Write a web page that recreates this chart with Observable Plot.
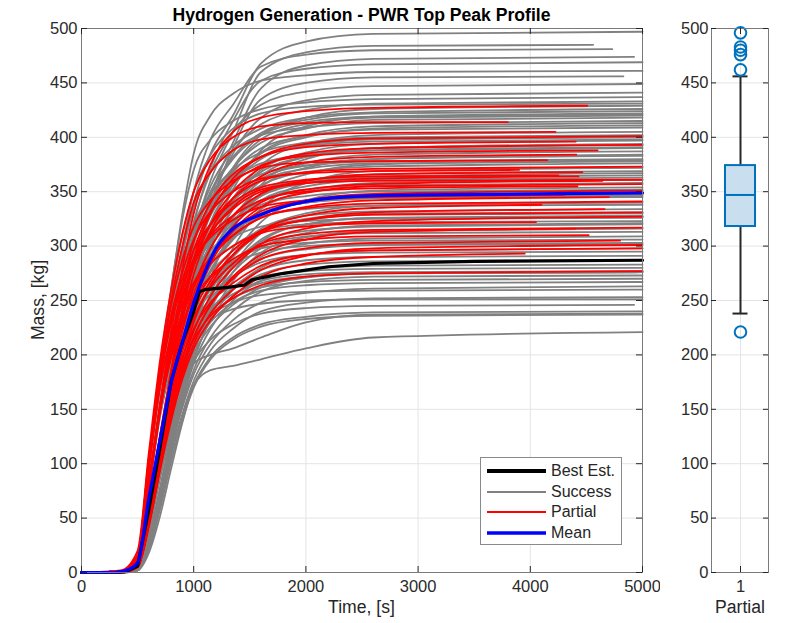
<!DOCTYPE html>
<html><head><meta charset="utf-8">
<script src="https://cdn.jsdelivr.net/npm/d3@7"></script>
<script src="https://cdn.jsdelivr.net/npm/@observablehq/plot@0.6"></script>
<style>
body{margin:0;background:#fff;}
#wrap{position:relative;width:790px;height:623px;font-family:'Liberation Sans',Arial,Helvetica,sans-serif;color:#262626;overflow:hidden;background:#fff;}
#wrap svg{position:absolute;top:0;}
.abs{position:absolute;white-space:nowrap;}
</style></head><body><div id="wrap"></div>
<script>
// ---------------- data ----------------
const title = "Hydrogen Generation - PWR Top Peak Profile";
const xLabel = "Time, [s]";
const yLabel = "Mass, [kg]";
const boxLabel = "Partial";
const xTicks = [0, 1000, 2000, 3000, 4000, 5000];
const yTicks = [0, 50, 100, 150, 200, 250, 300, 350, 400, 450, 500];
const legendNames = ["Best Est.", "Success", "Partial", "Mean"];

// shared sample times for every run (s)
const time = [0, 350, 500, 600, 700, 800, 900, 1000, 1150, 1350, 1600, 2000, 2600, 5000];

// "Success" runs (kg at each sample time)
const success = [
  [0,1,14,95,175,240,295,340,385,420,468,488,495,497],
  [0,1,11,78,150,212,265,310,360,405,460,478,484,485],
  [0,1,14,98,178,245,300,350,398,430,465,476,480,481],
  [0,1,8,62,122,180,235,285,345,395,445,466,472,474],
  [0,1,11,80,152,215,270,320,372,415,452,463,467,469],
  [0,1,15,100,185,260,330,385,420,440,452,457,460,461],
  [0,1,8,60,118,175,228,275,335,390,435,450,455,456],
  [0,1,12,82,156,220,275,322,368,405,430,442,447,449],
  [0,1,9,64,124,182,236,285,340,385,418,434,439,441],
  [0,1,16,105,190,262,325,370,398,415,426,432,435,437],
  [0,1,11,78,150,212,265,312,355,388,412,425,431,433],
  [0,1,8,60,120,178,232,280,332,372,402,418,426,429],
  [0,1,14,96,176,240,292,335,368,392,408,418,423,426],
  [0,0,5,46,100,155,205,250,305,352,388,410,419,422],
  [0,1,10,76,148,208,260,302,342,372,395,408,416,418],
  [0,1,15,100,182,248,298,338,368,388,402,409,413,415],
  [0,1,8,64,124,180,232,275,320,356,385,400,408,411],
  [0,1,12,80,152,214,264,304,340,368,390,401,407,409],
  [0,0,6,48,102,158,208,250,300,342,374,394,402,405],
  [0,1,14,96,176,240,286,320,348,370,386,395,400,402],
  [0,1,9,62,122,178,228,268,310,344,370,386,394,397],
  [0,0,3,30,76,126,172,215,270,318,356,380,390,393],
  [0,1,16,104,184,244,286,316,342,362,376,384,388,390],
  [0,1,8,60,120,175,224,264,302,334,360,376,384,387],
  [0,1,11,78,148,206,252,288,318,342,362,374,380,383],
  [0,0,5,44,98,152,200,242,284,320,348,366,375,379],
  [0,1,12,82,154,212,254,286,314,338,356,368,373,376],
  [0,0,3,28,74,122,168,208,256,298,334,358,369,372],
  [0,1,9,64,124,178,222,258,292,322,346,360,366,369],
  [0,1,15,100,180,236,272,298,320,338,352,360,363,365],
  [0,0,6,46,100,154,198,236,276,308,334,350,358,361],
  [0,1,11,78,148,204,244,272,300,324,342,352,356,358],
  [0,0,4,32,78,128,172,210,252,290,322,342,351,354],
  [0,1,14,96,172,226,260,284,306,324,338,346,350,352],
  [0,1,8,62,120,172,214,246,278,306,328,340,346,348],
  [0,1,10,74,144,198,236,264,290,312,330,340,344,345],
  [0,0,3,26,70,118,162,200,244,282,312,330,337,340],
  [0,1,15,98,174,224,254,276,296,314,327,334,337,338],
  [0,0,5,44,98,150,192,226,262,292,316,328,332,334],
  [0,1,12,80,150,200,234,256,276,296,314,325,330,331],
  [0,0,3,28,72,122,166,204,242,276,304,320,326,327],
  [0,1,14,94,168,216,246,266,284,300,314,320,322,323],
  [0,1,8,60,118,168,206,234,260,284,304,314,318,320],
  [0,0,2,22,64,112,156,194,234,268,294,308,314,316],
  [0,1,11,78,146,194,224,246,266,284,300,309,312,313],
  [0,0,5,44,96,148,188,218,246,270,290,302,307,309],
  [0,1,15,98,172,214,238,256,272,286,298,303,305,306],
  [0,1,9,62,120,168,202,228,252,272,288,297,301,302],
  [0,0,3,26,70,118,160,196,232,260,280,292,296,298],
  [0,1,11,76,144,188,216,236,256,272,285,292,294,295],
  [0,0,6,46,98,146,184,212,240,262,278,287,290,291],
  [0,1,8,60,118,164,196,220,242,260,274,283,286,287],
  [0,0,3,28,72,120,160,192,224,250,268,278,282,283],
  [0,1,12,80,146,188,214,232,250,263,272,277,279,280],
  [0,0,5,42,94,142,180,208,234,254,268,274,276,277],
  [0,0,2,24,66,114,154,186,216,240,258,268,272,273],
  [0,1,8,62,118,162,192,214,236,252,262,267,269,270],
  [0,0,6,46,98,144,180,206,230,248,259,264,266,267],
  [0,0,3,26,68,114,152,182,210,232,248,257,261,263],
  [0,1,9,64,120,164,194,216,236,248,255,258,259,260],
  [0,0,2,22,62,108,146,176,204,224,240,248,252,253],
  [0,0,5,42,92,136,170,194,214,228,238,243,245,246],
  [0,0,3,24,64,108,144,172,198,216,228,235,239,240],
  [0,0,2,20,58,102,140,170,196,214,226,233,236,237],
  [0,0,2,18,52,96,138,172,186,190,196,206,216,221],
  [0,0,4,36,86,132,168,192,200,206,216,230,237,238],
  [0,1,8,58,114,160,192,214,232,242,247,250,251,251],
  [0,1,11,78,150,210,256,292,328,358,380,393,398,400],
  [0,1,8,60,120,176,226,268,310,344,368,382,388,391],
  [0,1,15,100,182,236,268,292,318,342,360,371,376,378],
  [0,0,5,44,98,152,200,240,284,318,342,355,361,363],
  [0,1,12,80,150,204,240,266,292,314,330,340,344,346],
  [0,1,8,62,120,170,208,236,264,290,312,324,329,330],
  [0,1,14,96,172,222,252,272,292,308,318,323,325,326],
  [0,0,6,46,98,148,188,218,248,276,298,312,319,321],
  [0,1,16,104,188,256,310,350,384,408,422,428,430,431],
  [0,1,9,62,124,182,234,280,330,370,398,412,418,420],
  [0,1,11,78,150,212,266,310,350,382,404,416,422,424],
  [0,0,5,44,100,156,206,250,296,334,364,382,390,394],
  [0,1,12,80,152,214,262,302,338,364,382,392,396,398],
  [0,1,11,80,150,210,262,306,348,380,402,414,419,421],
  [0,1,8,62,122,178,230,276,322,358,386,402,410,413],
  [0,0,5,46,100,154,204,246,290,326,354,372,380,384],
  [0,1,15,100,180,238,278,306,332,352,366,374,378,380],
  [0,1,9,62,120,172,216,250,282,308,328,340,345,347],
  [0,0,6,46,98,148,190,222,254,282,306,320,326,328],
  [0,1,11,78,146,196,228,250,270,284,294,300,302,303],
  [0,0,5,44,94,140,176,202,226,246,262,271,275,276],
  [0,1,8,60,116,162,194,218,240,256,266,272,275,276],
  [0,1,12,80,148,202,244,276,304,328,346,358,364,367]
];
// success runs that stop before 5000 s: [run index, end time]
const successCut = [[1,4560],[2,4730],[3,4925],[6,4830],[61,4925]];

// "Partial" runs
const partial = [
  [0,1,12,82,156,222,280,330,375,405,418,424,427,429],
  [0,1,15,100,184,250,300,340,368,388,398,402,404,405],
  [0,1,9,64,126,186,242,288,330,362,382,394,399,401],
  [0,1,12,80,152,214,264,304,340,366,382,391,394,396],
  [0,1,8,62,122,180,232,274,314,344,364,377,382,384],
  [0,1,16,104,186,246,288,318,342,360,372,377,378,379],
  [0,1,11,78,148,206,252,288,320,344,360,368,371,373],
  [0,1,8,60,118,174,224,262,298,328,348,360,366,368],
  [0,1,12,82,152,210,252,284,312,334,350,358,362,364],
  [0,0,6,48,104,160,208,248,288,318,340,352,357,360],
  [0,1,15,100,180,232,264,288,310,328,342,350,353,355],
  [0,1,9,64,124,178,222,256,288,314,332,342,348,351],
  [0,1,11,78,148,200,236,262,288,310,326,335,339,341],
  [0,0,5,46,100,152,196,230,264,292,314,328,335,338],
  [0,1,8,62,120,170,210,240,268,292,312,324,331,334],
  [0,0,6,46,98,148,190,222,254,280,302,316,323,327],
  [0,1,14,96,170,218,246,266,284,300,312,318,321,322],
  [0,0,5,44,96,146,186,216,246,272,292,306,313,316],
  [0,1,12,80,150,198,230,252,272,288,300,306,309,310],
  [0,0,5,44,96,144,182,210,238,260,278,291,298,301],
  [0,1,8,62,118,164,198,224,248,266,282,292,296,298],
  [0,0,5,42,94,140,178,206,232,254,272,284,290,293],
  [0,1,8,60,116,160,192,214,236,252,264,272,275,277],
  [0,1,15,98,176,230,264,288,308,324,336,342,345,347],
  [0,0,6,48,102,158,206,246,284,314,336,349,355,357],
  [0,1,12,80,150,204,240,266,290,310,326,336,342,345],
  [0,1,11,78,150,210,258,296,332,358,374,383,386,388],
  [0,2,20,110,195,260,312,350,380,400,410,413,414,414],
  [0,1,9,62,120,172,212,244,272,296,314,324,329,331],
  [0,0,5,44,96,146,186,216,246,270,288,298,303,305],
  [0,1,14,96,178,236,276,306,332,350,362,367,369,370],
  [0,1,9,64,126,186,240,282,320,350,372,385,390,393],
  [0,1,16,102,182,236,270,296,320,340,354,361,364,365],
  [0,1,8,60,118,166,204,234,262,284,302,311,315,317],
  [0,1,11,78,148,206,250,282,312,336,352,358,360,361]
];
const partialEnd = [4508,4225,5000,4404,4410,4150,5000,4464,4430,4643,4420,5000,5000,4100,4662,5000,4050,4400,4520,5000,5000,3950,5000,4300,5000,4700,4600,3800,5000,4800,3900,5000,4250,5000,5000];

// Best estimate run
const bestTime = [0,300,400,500,600,700,800,900,1000,1050,1100,1300,1450,1520,1800,2200,2600,3500,5000];
const bestMass = [0,0,1,6,58,115,176,212,240,258,260,262,264,269,275,281,284,286,287];

// Mean of all runs
const meanTime = [0,300,400,500,600,700,800,900,1000,1100,1200,1350,1600,2000,2500,3000,5000];
const meanMass = [0,0,2,9,68,122,175,212,248,276,298,316,329,341,346,347,349];

// Box plot of final mass (Partial)
const boxCategory = ["1"];
const boxQ1 = [318];
const boxMedian = [347];
const boxQ3 = [374];
const boxLow = [238];
const boxHigh = [456];
const boxOutliers = [221, 462, 476, 480, 483, 496];

// ---------------- build ----------------
const FONT = "'Liberation Sans', Arial, Helvetica, sans-serif";
function rowsFor(series, endOf, prefix) {
  const rows = [];
  series.forEach((vals, i) => {
    const end = endOf(i);
    vals.forEach((v, j) => { if (time[j] < end) rows.push({id: prefix + i, t: time[j], v}); });
    rows.push({id: prefix + i, t: end, v: vals[vals.length - 1]});
  });
  return rows;
}
const cutMap = new Map(successCut);
const successRows = rowsFor(success, i => cutMap.get(i) ?? time[time.length - 1], "s");
const partialRows = rowsFor(partial, i => partialEnd[i], "p");
const bestRows = bestTime.map((t, i) => ({t, v: bestMass[i]}));
const meanRows = meanTime.map((t, i) => ({t, v: meanMass[i]}));
const boxRows = boxCategory.map((c, i) => ({cat: c, q1: boxQ1[i], median: boxMedian[i], q3: boxQ3[i], lo: boxLow[i], hi: boxHigh[i]}));

const GRID = "#e4e4e4", TICK = "#262626", FRAME = "#7a7a7a";
const FS = 16.5;
const fmt = d => `${d}`;

const main = Plot.plot({
  width: 660, height: 623,
  marginLeft: 81, marginRight: 18, marginTop: 28, marginBottom: 51,
  x: {domain: [0, 5000]},
  y: {domain: [0, 500]},
  style: {fontFamily: FONT, fontSize: FS + "px", color: "#2b2b2b", background: "transparent"},
  marks: [
    Plot.ruleX(xTicks.slice(1, -1), {x: d => d, stroke: GRID}),
    Plot.ruleY(yTicks.slice(1, -1), {y: d => d, stroke: GRID}),
    Plot.line(successRows, {x: "t", y: "v", z: "id", stroke: "#808080", strokeWidth: 1.8, curve: "monotone-x"}),
    Plot.line(partialRows, {x: "t", y: "v", z: "id", stroke: "#ff0000", strokeWidth: 1.8, curve: "monotone-x"}),
    Plot.line(bestRows, {x: "t", y: "v", stroke: "#000000", strokeWidth: 3.2}),
    Plot.line(meanRows, {x: "t", y: "v", stroke: "#0000ff", strokeWidth: 3.2, curve: "monotone-x"}),
    Plot.frame({stroke: FRAME}),
    Plot.ruleY(yTicks, {y: d => d, stroke: TICK, insetRight: 555}),
    Plot.ruleY(yTicks, {y: d => d, stroke: TICK, insetLeft: 555}),
    Plot.ruleX(xTicks, {x: d => d, stroke: TICK, insetTop: 538}),
    Plot.ruleX(xTicks, {x: d => d, stroke: TICK, insetBottom: 538}),
    Plot.axisX(xTicks, {tickSize: 0, tickPadding: 8, fontSize: FS, tickFormat: fmt, label: null}),
    Plot.axisY(yTicks, {tickSize: 0, tickPadding: 4, fontSize: FS, tickFormat: fmt, label: null})
  ]
});
main.style.left = "0px";

const box = Plot.plot({
  width: 130, height: 623,
  marginLeft: 51, marginRight: 22, marginTop: 28, marginBottom: 51,
  x: {type: "band", domain: boxCategory, padding: 0.31},
  y: {domain: [0, 500]},
  style: {fontFamily: FONT, fontSize: FS + "px", color: "#2b2b2b", background: "transparent"},
  marks: [
    Plot.ruleY(yTicks.slice(1, -1), {y: d => d, stroke: GRID}),
    Plot.ruleX(boxCategory, {x: d => d, stroke: GRID}),
    Plot.ruleX(boxRows, {x: "cat", y1: "q3", y2: "hi", stroke: "#262626", strokeWidth: 2}),
    Plot.ruleX(boxRows, {x: "cat", y1: "lo", y2: "q1", stroke: "#262626", strokeWidth: 2}),
    Plot.tickY(boxRows, {x: "cat", y: "hi", stroke: "#262626", strokeWidth: 2, insetLeft: 7.5, insetRight: 7.5}),
    Plot.tickY(boxRows, {x: "cat", y: "lo", stroke: "#262626", strokeWidth: 2, insetLeft: 7.5, insetRight: 7.5}),
    Plot.barY(boxRows, {x: "cat", y1: "q1", y2: "q3", fill: "#c9dff0", stroke: "#0072bd", strokeWidth: 2}),
    Plot.tickY(boxRows, {x: "cat", y: "median", stroke: "#0072bd", strokeWidth: 2}),
    Plot.dot(boxOutliers, {x: () => boxCategory[0], y: d => d, r: 5.8, stroke: "#0072bd", strokeWidth: 2, fill: "none"}),
    Plot.frame({stroke: FRAME}),
    Plot.ruleY(yTicks, {y: d => d, stroke: TICK, insetRight: 52}),
    Plot.ruleY(yTicks, {y: d => d, stroke: TICK, insetLeft: 52}),
    Plot.ruleX(boxCategory, {x: d => d, stroke: TICK, insetTop: 538}),
    Plot.ruleX(boxCategory, {x: d => d, stroke: TICK, insetBottom: 538}),
    Plot.axisX({tickSize: 0, tickPadding: 8, fontSize: FS, label: null}),
    Plot.axisY(yTicks, {tickSize: 0, tickPadding: 3, fontSize: FS, tickFormat: fmt, label: null})
  ]
});
box.style.left = "660px";

const wrap = document.getElementById("wrap");
wrap.appendChild(main);
wrap.appendChild(box);

function addText(txt, css) {
  const d = document.createElement("div");
  d.className = "abs";
  d.textContent = txt;
  Object.assign(d.style, css);
  wrap.appendChild(d);
  return d;
}
addText(title, {left: "81px", width: "561px", top: "7px", textAlign: "center", fontWeight: "bold", fontSize: "17.6px", lineHeight: "17.6px", color: "#000"});
addText(xLabel, {left: "81px", width: "561px", top: "599px", textAlign: "center", fontSize: "17.6px", lineHeight: "17.6px"});
addText(boxLabel, {left: "690px", width: "100px", top: "599px", textAlign: "center", fontSize: "17.6px", lineHeight: "17.6px"});
addText(yLabel, {left: "-62px", width: "200px", top: "290px", height: "20px", lineHeight: "20px", textAlign: "center", fontSize: "17.6px", transform: "rotate(-90deg)", transformOrigin: "50% 50%"});

// legend
const leg = document.createElement("div");
leg.className = "abs";
Object.assign(leg.style, {left: "480px", top: "457px", width: "140px", height: "86px", border: "1px solid #8a8a8a", background: "#fff"});
wrap.appendChild(leg);
const legStyles = [["#000000", 4], ["#808080", 2], ["#ff0000", 2], ["#0000ff", 3.5]];
legendNames.forEach((name, i) => {
  const cy = 13 + 20.6 * i;
  const svg = document.createElementNS("http://www.w3.org/2000/svg", "svg");
  svg.setAttribute("width", "62"); svg.setAttribute("height", "10");
  Object.assign(svg.style, {position: "absolute", left: "5px", top: (cy - 5) + "px"});
  const ln = document.createElementNS("http://www.w3.org/2000/svg", "line");
  ln.setAttribute("x1", "1"); ln.setAttribute("x2", "60"); ln.setAttribute("y1", "5"); ln.setAttribute("y2", "5");
  ln.setAttribute("stroke", legStyles[i][0]); ln.setAttribute("stroke-width", legStyles[i][1]);
  svg.appendChild(ln);
  leg.appendChild(svg);
  const t = document.createElement("div");
  t.textContent = name;
  Object.assign(t.style, {position: "absolute", left: "70px", top: (cy - 9) + "px", fontSize: "16px", lineHeight: "18px", whiteSpace: "nowrap"});
  leg.appendChild(t);
});
</script></body></html>
